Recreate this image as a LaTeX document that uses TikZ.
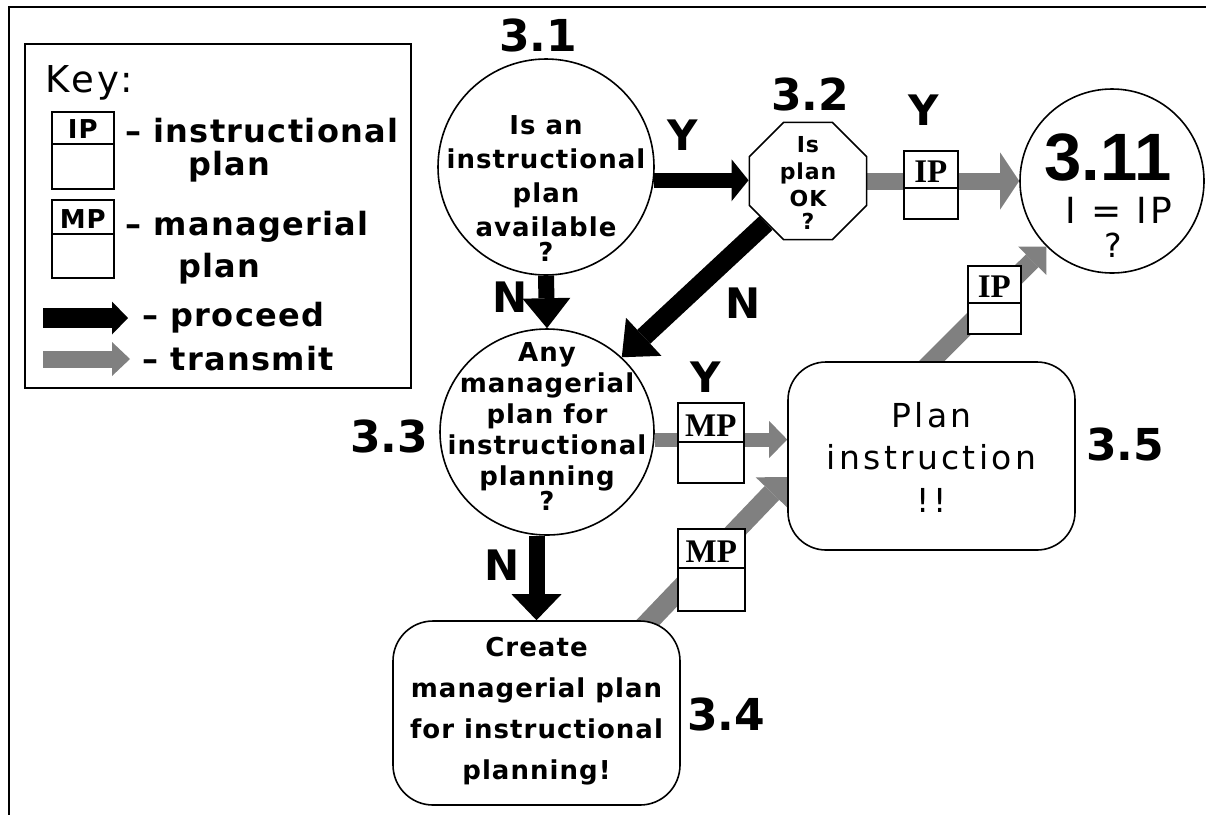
\documentclass[tikz,border=0pt]{standalone}
\usepackage{fontspec}
\usetikzlibrary{arrows.meta,shapes.geometric,calc}
\newfontfamily\gen{DejaVu Sans}[LetterSpace=10]
\newfontfamily\genb{DejaVu Sans}[LetterSpace=4]
\newfontfamily\numf{DejaVu Sans}
\newfontfamily\lsans{Liberation Sans}
\newfontfamily\lserif{Liberation Serif}
\definecolor{stipple}{gray}{0.5}
\pgfdeclarelayer{back}
\pgfsetlayers{back,main}
\newcommand\fsz[2]{\fontsize{#1}{#2}\selectfont}
% plan box: name, left, top, width, height, divider depth, font, label
\newcommand\planbox[8]{%
  \node[pbox, minimum width=#4, minimum height=#5, anchor=north west] (#1) at (#2,#3) {};
  \draw[line width=1.5pt] (#1.north west) ++(0,#6) coordinate (#1-l) -- (#1-l -| #1.east);
  \path (#1.north) ++(0,#6-6) node[anchor=base, inner sep=0pt, font=#7] (#1-t) {#8};
}
\begin{document}
\begin{tikzpicture}[x=1pt, y=-1pt,
  outl/.style={draw, line width=1.6pt, fill=white, inner sep=0pt},
  circ/.style={outl, circle},
  ell/.style={outl, ellipse},
  octa/.style={outl, regular polygon, regular polygon sides=8},
  rbox/.style={outl, rectangle, rounded corners=38pt},
  pbox/.style={draw, line width=1.5pt, fill=white, inner sep=0pt, rectangle},
  bodytxt/.style={inner sep=0pt, align=center, font=\genb\bfseries\fsz{26}{34}},
  numtag/.style={inner sep=0pt, anchor=base, font=\numf\bfseries\fsz{44}{44}},
  yn/.style={inner sep=0pt, anchor=base, font=\numf\bfseries\fsz{42}{42}},
  keytxt/.style={inner sep=0pt, anchor=base west, font=\genb\bfseries\fsz{32}{32}},
  arr/.style n args={3}{line width=#1, -{Triangle[width=#2, length=#3, line width=0pt]}},
]
\useasboundingbox (0,0) rectangle (1206,815);
\draw[line width=2pt] (1206,7) -- (9,7) -- (9,815);

% ---- key ----
\node[outl, line width=2pt, minimum width=386, minimum height=344, anchor=north west] (key) at (24,43) {};
\node[inner sep=0pt, anchor=base west, font=\gen\fsz{37}{37}] (keyt) at (45,92) {Key:};
\planbox{kip}{51}{111}{62}{77}{33}{\genb\bfseries\fsz{26}{26}}{IP}
\planbox{kmp}{51}{199}{62}{78}{35}{\genb\bfseries\fsz{26}{26}}{MP}
\node[keytxt] (k1) at (125,142) {– instructional};
\node[keytxt] (k2) at (188,175) {plan};
\node[keytxt] (k3) at (125,235) {– managerial};
\node[keytxt] (k4) at (178,277) {plan};
\coordinate (kp1) at (43,318);
\coordinate (kp2) at (128,318);
\coordinate (kt1) at (43,359);
\coordinate (kt2) at (130,359);
\draw[arr={20pt}{33pt}{16pt}] (kp1) -- (kp2);
\draw[arr={17pt}{34pt}{18pt}, draw=stipple] (kt1) -- (kt2);
\node[keytxt] (k5) at (142,326) {– proceed};
\node[keytxt] (k6) at (142,370) {– transmit};

% ---- flow nodes ----
\node[circ, minimum size=216] (c31) at (546,167) {};
\node[octa, minimum size=127] (oct) at (808,181) {};
\node[circ, minimum size=184] (c311) at (1112,181) {};
\node[ell, minimum width=214, minimum height=206] (c33) at (547,432) {};
\node[rbox, minimum width=287, minimum height=188] (c35) at (931.5,456) {};
\node[rbox, minimum width=287, minimum height=184, rounded corners=40pt] (c34) at (536.5,713) {};

\node[bodytxt] (c31t) at (546,189) {Is an\\instructional\\plan\\available\\[-9pt]?};
\node[bodytxt, font=\genb\bfseries\fsz{22}{27}] (octt) at (808,183) {Is\\plan\\OK\\[-4pt]?};
\node[bodytxt, font=\genb\bfseries\fsz{26}{31}] (c33t) at (547,427) {Any\\managerial\\plan for\\instructional\\planning\\[-6pt]?};
\node[bodytxt, font=\genb\bfseries\fsz{26}{41}] (c34t) at (536.5,711) {Create\\managerial plan\\for instructional\\planning!};
\node[bodytxt, font=\gen\fsz{33}{42.5}] (c35t) at (931.5,457) {Plan\\instruction\\!!};
\node[inner sep=0pt, anchor=base, font=\lsans\bfseries\fsz{67}{67}] (c311n) at (1108,180) {3.11};
\node[inner sep=0pt, anchor=base, font=\gen\fsz{36}{36}] (c311e) at (1119,223) {I = IP};
\node[inner sep=0pt, anchor=base, font=\gen\fsz{33}{33}] (c311q) at (1113,257) {?};

% ---- step numbers ----
\node[numtag] (n31) at (538,51) {3.1};
\node[numtag] (n32) at (810,110) {3.2};
\node[numtag] (n33) at (389,452) {3.3};
\node[numtag] (n34) at (726,730) {3.4};
\node[numtag] (n35) at (1125,460) {3.5};

% ---- answers ----
\node[yn] (y1) at (683,150) {Y};
\node[yn] (nn1) at (510,312) {N};
\node[yn] (nn2) at (743,318) {N};
\node[yn] (y2) at (706,392) {Y};
\node[yn] (nn3) at (502,580) {N};
\node[yn] (y3) at (924,125) {Y};

% ---- connectors ----
\begin{pgfonlayer}{back}
\draw[arr={15pt}{42pt}{17pt}] (c31.-7) -- (c31.-7 -| oct.west);
\draw[arr={16pt}{48pt}{30pt}] (c31.south) -- (c33.north);
\draw[arr={19pt}{52pt}{30pt}] (oct.225) -- (c33.45);
\draw[arr={16pt}{50pt}{26pt}] (c33.south -| c34.north) -- (c34.north);
\draw[arr={17pt}{57pt}{19pt}, draw=stipple] (oct.east) -- (c311.west);
\draw[arr={14pt}{37pt}{18pt}, draw=stipple] (c33.-4) -- (c33.-4 -| c35.west);
\draw[arr={20pt}{45pt}{22pt}, draw=stipple] ([xshift=-46pt,yshift=-16pt]c34.north east) -- ([yshift=-21pt]c35.west);
\draw[arr={18pt}{40pt}{20pt}, draw=stipple] ([xshift=-15pt,yshift=-15pt]c35.north) -- (c311.225);
\end{pgfonlayer}

% ---- plans in transit ----
\planbox{ip1}{903}{150}{54}{68}{38}{\lserif\bfseries\fsz{33}{33}}{IP}
\planbox{mp1}{677}{402}{66}{80}{40}{\lserif\bfseries\fsz{33}{33}}{MP}
\planbox{mp2}{677}{528}{67}{82}{40}{\lserif\bfseries\fsz{33}{33}}{MP}
\planbox{ip2}{967}{265}{53}{68}{38}{\lserif\bfseries\fsz{33}{33}}{IP}
\end{tikzpicture}
\end{document}
